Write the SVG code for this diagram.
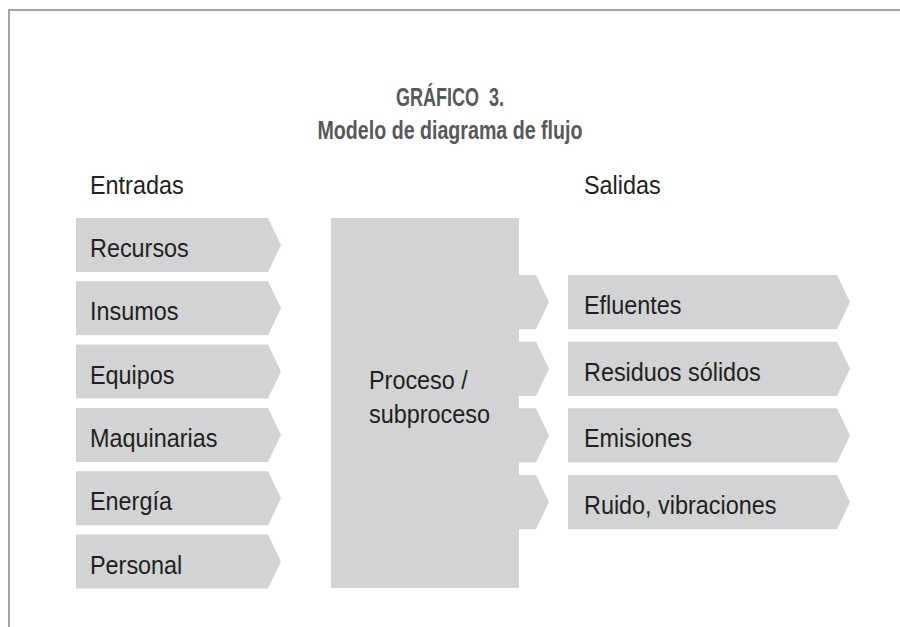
<svg xmlns="http://www.w3.org/2000/svg" width="900" height="627" viewBox="0 0 900 627">
<style>
.frame{fill:none;stroke:#a3a3a3;stroke-width:2}
.box{fill:#d1d3d4}
.lbl{font-family:"Liberation Sans",Arial,sans-serif;font-size:26px;fill:#231f20}
.ttl{font-family:"Liberation Sans",Arial,sans-serif;font-size:26px;font-weight:bold;fill:#58595b;text-anchor:middle}
</style>
<rect width="900" height="627" fill="#ffffff"/>
<path class="frame" d="M9,627 V10 H900"/>
<g id="title">
<text class="ttl" x="450" y="106" textLength="108" lengthAdjust="spacingAndGlyphs" xml:space="preserve">GRÁFICO  3.</text>
<text class="ttl" x="450" y="139" textLength="265" lengthAdjust="spacingAndGlyphs">Modelo de diagrama de flujo</text>
</g>
<g id="headers">
<text class="lbl" transform="translate(90,194) scale(0.9,1)">Entradas</text>
<text class="lbl" transform="translate(584,194) scale(0.9,1)">Salidas</text>
</g>
<g id="in-recursos"><path class="box" d="M76,218H268L281,245L268,272H76Z"/><text class="lbl" transform="translate(90,257) scale(0.9,1)">Recursos</text></g>
<g id="in-insumos"><path class="box" d="M76,281.3H268L281,308.3L268,335.3H76Z"/><text class="lbl" transform="translate(90,320.3) scale(0.9,1)">Insumos</text></g>
<g id="in-equipos"><path class="box" d="M76,344.6H268L281,371.6L268,398.6H76Z"/><text class="lbl" transform="translate(90,383.6) scale(0.9,1)">Equipos</text></g>
<g id="in-maquinarias"><path class="box" d="M76,408H268L281,435L268,462H76Z"/><text class="lbl" transform="translate(90,447) scale(0.9,1)">Maquinarias</text></g>
<g id="in-energia"><path class="box" d="M76,471.3H268L281,498.3L268,525.3H76Z"/><text class="lbl" transform="translate(90,510.3) scale(0.9,1)">Energía</text></g>
<g id="in-personal"><path class="box" d="M76,534.6H268L281,561.6L268,588.6H76Z"/><text class="lbl" transform="translate(90,573.6) scale(0.9,1)">Personal</text></g>
<g id="proceso">
<path class="box" d="M331,218H519V275H536L549,302L536,329.3H519V341.7H536L549,368.8L536,396H519V408.3H536L549,435.5L536,462.6H519V475H536L549,502L536,529.3H519V588H331Z"/>
<text class="lbl" transform="translate(369,389) scale(0.9,1)">Proceso /</text>
<text class="lbl" transform="translate(369,423) scale(0.9,1)">subproceso</text>
</g>
<g id="out-efluentes"><path class="box" d="M568,275H837L850,302L837,329.3H568Z"/><text class="lbl" transform="translate(584,314) scale(0.9,1)">Efluentes</text></g>
<g id="out-residuos"><path class="box" d="M568,341.7H837L850,368.8L837,396H568Z"/><text class="lbl" transform="translate(584,380.7) scale(0.9,1)">Residuos sólidos</text></g>
<g id="out-emisiones"><path class="box" d="M568,408.3H837L850,435.5L837,462.6H568Z"/><text class="lbl" transform="translate(584,447.3) scale(0.9,1)">Emisiones</text></g>
<g id="out-ruido"><path class="box" d="M568,475H837L850,502L837,529.3H568Z"/><text class="lbl" transform="translate(584,514) scale(0.9,1)">Ruido, vibraciones</text></g>
<g id="connectors"></g>
</svg>
